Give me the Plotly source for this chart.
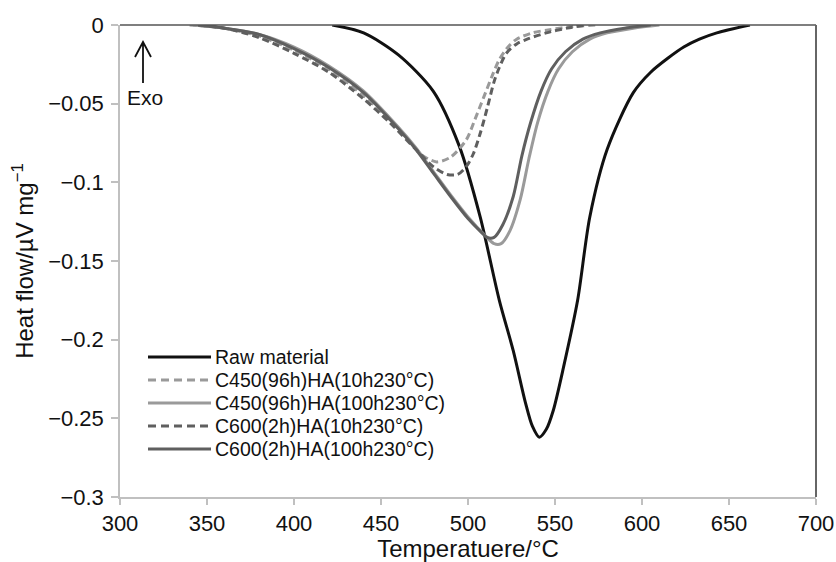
import plotly.graph_objects as go

# DSC heat-flow curves (temperature in °C, heat flow in µV/mg)
raw_T = [422, 440, 460, 480, 495, 507, 518, 526, 533, 537, 541, 545, 549, 555, 563, 570,
         580, 595, 605, 615, 624, 633, 643, 662]
raw_hf = [0, -0.005, -0.019, -0.042, -0.077, -0.122, -0.175, -0.207, -0.240, -0.255, -0.262,
          -0.257, -0.245, -0.217, -0.175, -0.122, -0.079, -0.043, -0.030, -0.021, -0.014,
          -0.009, -0.005, 0]

c450_10_T = [340, 360, 380, 400, 420, 440, 455, 465, 474, 482, 490, 499, 504, 509,
             514, 518, 523, 528, 537, 547, 560, 574]
c450_10_hf = [0, -0.002, -0.007, -0.016, -0.028, -0.045, -0.060, -0.072, -0.083, -0.087,
              -0.084, -0.073, -0.060, -0.046, -0.032, -0.022, -0.014, -0.009, -0.005,
              -0.003, -0.001, 0]

c450_100_T = [342, 360, 380, 400, 420, 440, 460, 470, 480, 490, 500, 510, 515, 519, 524,
              530, 535, 540, 546, 552, 560, 570, 580, 595, 610]
c450_100_hf = [0, -0.002, -0.006, -0.014, -0.026, -0.042, -0.065, -0.078, -0.093, -0.108,
               -0.122, -0.134, -0.139, -0.139, -0.131, -0.111, -0.085, -0.062, -0.042,
               -0.028, -0.017, -0.009, -0.005, -0.002, 0]

c600_10_T = [345, 360, 380, 400, 420, 440, 455, 470, 480, 488, 494, 499, 503, 507, 511,
             515, 518, 522, 528, 534, 545, 557, 568]
c600_10_hf = [0, -0.002, -0.008, -0.018, -0.030, -0.047, -0.062, -0.079, -0.090, -0.095,
              -0.095, -0.090, -0.082, -0.069, -0.053, -0.036, -0.027, -0.018, -0.012,
              -0.009, -0.005, -0.002, 0]

c600_100_T = [345, 360, 380, 400, 420, 440, 460, 470, 480, 490, 500, 507, 511, 515, 520,
              526, 531, 536, 542, 548, 556, 566, 576, 590, 605]
c600_100_hf = [0, -0.002, -0.006, -0.015, -0.027, -0.043, -0.066, -0.079, -0.094, -0.109,
               -0.123, -0.131, -0.135, -0.135, -0.127, -0.109, -0.083, -0.062, -0.042,
               -0.028, -0.017, -0.009, -0.005, -0.002, 0]

x_ticks = [300, 350, 400, 450, 500, 550, 600, 650, 700]
y_ticks = [0, -0.05, -0.1, -0.15, -0.2, -0.25, -0.3]

series = [
    ("Raw material", raw_T, raw_hf, dict(color="#111111", width=3, dash="solid")),
    ("C450(96h)HA(10h230°C)", c450_10_T, c450_10_hf, dict(color="#9a9a9a", width=3, dash="7px,4px")),
    ("C450(96h)HA(100h230°C)", c450_100_T, c450_100_hf, dict(color="#9a9a9a", width=3, dash="solid")),
    ("C600(2h)HA(10h230°C)", c600_10_T, c600_10_hf, dict(color="#5f5f5f", width=3, dash="7px,4px")),
    ("C600(2h)HA(100h230°C)", c600_100_T, c600_100_hf, dict(color="#5f5f5f", width=3, dash="solid")),
]

W, H = 836, 562
ML, MR, MT, MB = 120, 20, 25, 65
PW, PH = W - ML - MR, H - MT - MB


def px(xp):
    return (xp - ML) / PW


def py(yp):
    return (H - MB - yp) / PH


fig = go.Figure()
for name, xs, ys, ln in series:
    fig.add_trace(go.Scatter(x=xs, y=ys, mode="lines", name=name,
                             line=dict(shape="spline", smoothing=0.8, **ln),
                             showlegend=False))

shapes = [
    # top and right frame lines
    dict(type="line", xref="paper", yref="paper", x0=0, x1=1, y0=1, y1=1,
         line=dict(color="#555555", width=1.5)),
    dict(type="line", xref="paper", yref="paper", x0=1, x1=1, y0=0, y1=1,
         line=dict(color="#666666", width=2)),
    # "Exo" arrow
    dict(type="path", xref="paper", yref="paper",
         path=f"M {px(143)} {py(83)} L {px(143)} {py(42)} M {px(135)} {py(57)} "
              f"L {px(143)} {py(42)} L {px(151)} {py(57)}",
         line=dict(color="#111111", width=1.8)),
]

annotations = [
    dict(text="Exo", xref="paper", yref="paper", x=px(145), y=py(97),
         showarrow=False, font=dict(size=21, color="#111111"),
         xanchor="center", yanchor="middle"),
]

# legend drawn inside the plot area
row_y = [357, 380, 403, 426, 449]
for (name, _, _, ln), ry in zip(series, row_y):
    shapes.append(dict(type="line", xref="paper", yref="paper",
                       x0=px(148), x1=px(211), y0=py(ry), y1=py(ry),
                       line=dict(color=ln["color"], width=3,
                                 dash="8px,5px" if ln["dash"] != "solid" else "solid")))
    annotations.append(dict(text=name, xref="paper", yref="paper",
                            x=px(213), y=py(ry), xanchor="left", yanchor="middle",
                            showarrow=False, font=dict(size=19.5, color="#111111")))

fig.update_layout(
    width=W, height=H,
    margin=dict(l=ML, r=MR, t=MT, b=MB, autoexpand=False),
    paper_bgcolor="white", plot_bgcolor="white",
    font=dict(family="Liberation Sans, Arial, sans-serif", color="#111111"),
    shapes=shapes, annotations=annotations,
    xaxis=dict(range=[300, 700], tickvals=x_ticks, showgrid=False, zeroline=False,
               showline=True, linecolor="#c0c0c0", linewidth=1.5, automargin=False,
               ticks="outside", ticklen=6, tickcolor="#c0c0c0", tickwidth=1.5,
               tickfont=dict(size=22), ticklabelstandoff=0,
               title=dict(text="Temperatuere/°C", font=dict(size=24), standoff=6)),
    yaxis=dict(range=[-0.3, 0], tickvals=y_ticks, showgrid=False, zeroline=False,
               showline=True, linecolor="#c0c0c0", linewidth=1.5, automargin=False,
               ticks="outside", ticklen=7, tickcolor="#c0c0c0", tickwidth=1.5,
               tickfont=dict(size=22), ticklabelstandoff=3,
               title=dict(text="Heat flow/µV mg<sup>−1</sup>", font=dict(size=24), standoff=8)),
)

fig.write_html("out.html")
